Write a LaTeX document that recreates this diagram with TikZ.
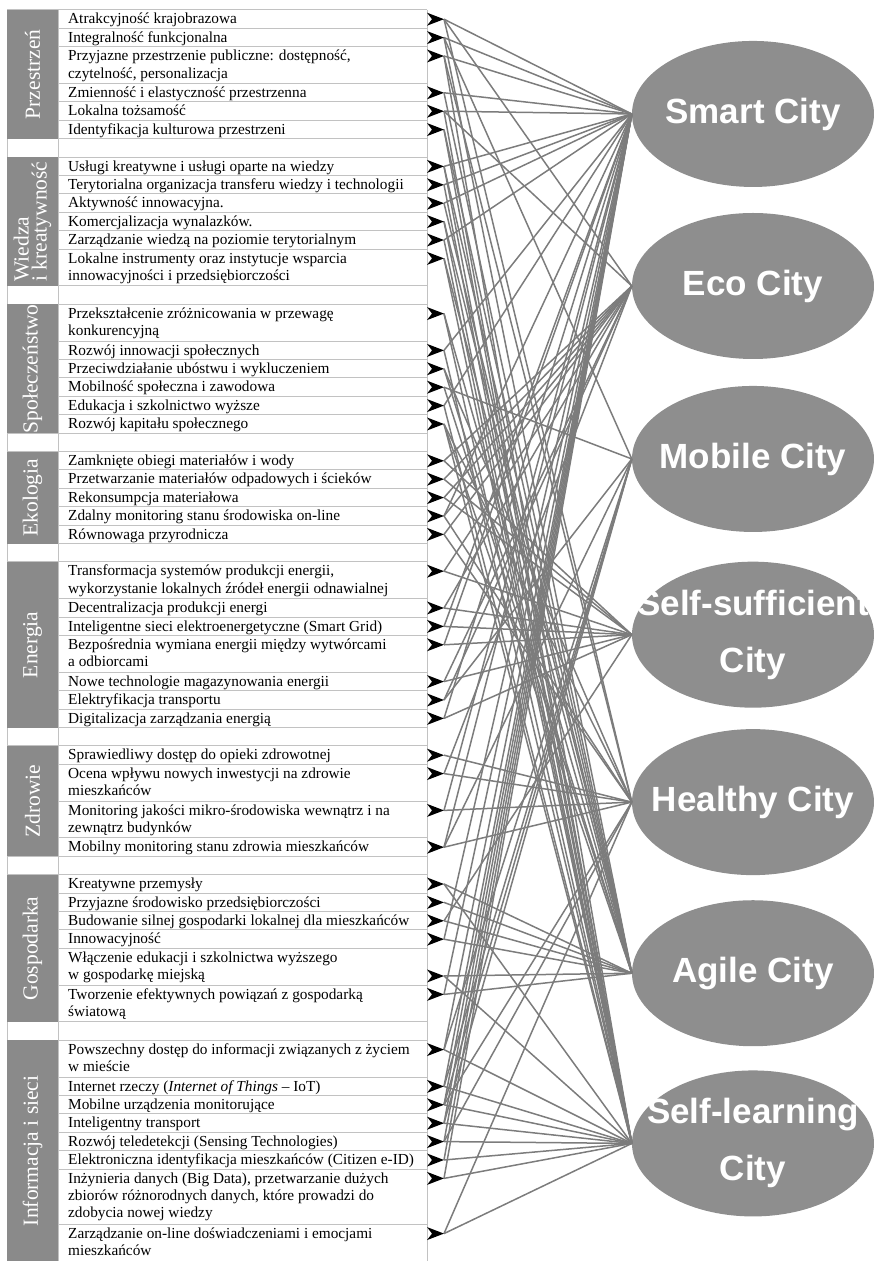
\documentclass[tikz,border=0pt]{standalone}
\usepackage{fontspec}
\setmainfont{Liberation Serif}
\newfontfamily\citysans{Liberation Sans}
\usetikzlibrary{shapes.geometric}

\definecolor{catgray}{HTML}{8A8A8A}
\definecolor{citygray}{HTML}{8E8E8E}
\definecolor{linkgray}{HTML}{7C7C7C}
\definecolor{rulegray}{HTML}{C2C2C2}

\begin{document}
\begin{tikzpicture}[x=1pt, y=-18.4pt,
    item/.style={anchor=base west, inner sep=0pt, align=left, font=\fontsize{15.3}{17.4}\selectfont},
    cat/.style={rotate=90, text=white, inner sep=0pt, align=left, font=\fontsize{21.5}{18}\selectfont},
    city/.style={ellipse, fill=citygray, minimum width=242pt, minimum height=146pt, inner sep=0pt},
    citytext/.style={text=white, align=center, inner sep=0pt, font=\citysans\bfseries\fontsize{35}{57}\selectfont},
    rule/.style={draw=rulegray, line width=1pt},
    link/.style={draw=linkgray, line width=1.5pt}]
    \useasboundingbox (0,-0.543) rectangle (874,67.99);

    % table grid
    \foreach \k in {0,1,2,4,5,6,7,8,9,10,11,12,13,15,16,18,19,20,21,22,23,24,25,26,27,28,29,30,32,33,34,36,37,38,39,40,41,43,45,46,47,48,49,50,51,53,55,56,58,59,60,61,62,63,66,68}
        \draw[rule] (58,\k) -- (427,\k);
    \foreach \k in {0,7,8,15,16,23,24,29,30,39,40,46,47,55,56,68}
        \draw[rule] (7,\k) -- (58,\k);
    \draw[rule] (7,0) -- (7,68) (58,0) -- (58,68) (427,0) -- (427,68);
    \foreach \a/\b in {0/7,8/15,16/23,24/29,30/39,40/46,47/55,56/68}
        \fill[catgray] (7,\a) rectangle (58,\b);

    \node[cat] (przestrzen) at (32.5,3.5) {Przestrzeń};
    \node[cat] (wiedza) at (32.5,11.5) {Wiedza\\ i kreatywność};
    \node[cat] (spoleczenstwo) at (32.5,19.5) {Społeczeństwo};
    \node[cat] (ekologia) at (32.5,26.5) {Ekologia};
    \node[cat] (energia) at (32.5,34.5) {Energia};
    \node[cat] (zdrowie) at (32.5,43) {Zdrowie};
    \node[cat] (gospodarka) at (32.5,51) {Gospodarka};
    \node[cat] (informacja) at (32.5,62) {Informacja i sieci};

    % base of a wrapped item is its last line
    \node[item] (p1) at (68,0.76) {Atrakcyjność krajobrazowa};
    \node[item] (p2) at (68,1.76) {Integralność funkcjonalna};
    \node[item] (p3) at (68,3.706) {Przyjazne przestrzenie publiczne: dostępność,\\ czytelność, personalizacja};
    \node[item] (p4) at (68,4.76) {Zmienność i elastyczność przestrzenna};
    \node[item] (p5) at (68,5.76) {Lokalna tożsamość};
    \node[item] (p6) at (68,6.76) {Identyfikacja kulturowa przestrzeni};

    \node[item] (w1) at (68,8.76) {Usługi kreatywne i usługi oparte na wiedzy};
    \node[item] (w2) at (68,9.76) {Terytorialna organizacja transferu wiedzy i technologii};
    \node[item] (w3) at (68,10.76) {Aktywność innowacyjna.};
    \node[item] (w4) at (68,11.76) {Komercjalizacja wynalazków.};
    \node[item] (w5) at (68,12.76) {Zarządzanie wiedzą na poziomie terytorialnym};
    \node[item] (w6) at (68,14.706) {Lokalne instrumenty oraz instytucje wsparcia\\ innowacyjności i przedsiębiorczości};

    \node[item] (s1) at (68,17.706) {Przekształcenie zróżnicowania w przewagę\\ konkurencyjną};
    \node[item] (s2) at (68,18.76) {Rozwój innowacji społecznych};
    \node[item] (s3) at (68,19.76) {Przeciwdziałanie ubóstwu i wykluczeniem};
    \node[item] (s4) at (68,20.76) {Mobilność społeczna i zawodowa};
    \node[item] (s5) at (68,21.76) {Edukacja i szkolnictwo wyższe};
    \node[item] (s6) at (68,22.76) {Rozwój kapitału społecznego};

    \node[item] (e1) at (68,24.76) {Zamknięte obiegi materiałów i wody};
    \node[item] (e2) at (68,25.76) {Przetwarzanie materiałów odpadowych i ścieków};
    \node[item] (e3) at (68,26.76) {Rekonsumpcja materiałowa};
    \node[item] (e4) at (68,27.76) {Zdalny monitoring stanu środowiska on-line};
    \node[item] (e5) at (68,28.76) {Równowaga przyrodnicza};

    \node[item] (n1) at (68,31.706) {Transformacja systemów produkcji energii,\\ wykorzystanie lokalnych źródeł energii odnawialnej};
    \node[item] (n2) at (68,32.76) {Decentralizacja produkcji energi};
    \node[item] (n3) at (68,33.76) {Inteligentne sieci elektroenergetyczne (Smart Grid)};
    \node[item] (n4) at (68,35.706) {Bezpośrednia wymiana energii między wytwórcami\\ a odbiorcami};
    \node[item] (n5) at (68,36.76) {Nowe technologie magazynowania energii};
    \node[item] (n6) at (68,37.76) {Elektryfikacja transportu};
    \node[item] (n7) at (68,38.76) {Digitalizacja zarządzania energią};

    \node[item] (z1) at (68,40.76) {Sprawiedliwy dostęp do opieki zdrowotnej};
    \node[item] (z2) at (68,42.706) {Ocena wpływu nowych inwestycji na zdrowie\\ mieszkańców};
    \node[item] (z3) at (68,44.706) {Monitoring jakości mikro-środowiska wewnątrz i na\\ zewnątrz budynków};
    \node[item] (z4) at (68,45.76) {Mobilny monitoring stanu zdrowia mieszkańców};

    \node[item] (g1) at (68,47.76) {Kreatywne przemysły};
    \node[item] (g2) at (68,48.76) {Przyjazne środowisko przedsiębiorczości};
    \node[item] (g3) at (68,49.76) {Budowanie silnej gospodarki lokalnej dla mieszkańców};
    \node[item] (g4) at (68,50.76) {Innowacyjność};
    \node[item] (g5) at (68,52.706) {Włączenie edukacji i szkolnictwa wyższego\\ w gospodarkę miejską};
    \node[item] (g6) at (68,54.706) {Tworzenie efektywnych powiązań z gospodarką\\ światową};

    \node[item] (i1) at (68,57.706) {Powszechny dostęp do informacji związanych z życiem\\ w mieście};
    \node[item] (i2) at (68,58.76) {Internet rzeczy (\textit{Internet of Things} – IoT)};
    \node[item] (i3) at (68,59.76) {Mobilne urządzenia monitorujące};
    \node[item] (i4) at (68,60.76) {Inteligentny transport};
    \node[item] (i5) at (68,61.76) {Rozwój teledetekcji (Sensing Technologies)};
    \node[item] (i6) at (68,62.76) {Elektroniczna identyfikacja mieszkańców (Citizen e-ID)};
    \node[item] (i7) at (68,65.651) {Inżynieria danych (Big Data), przetwarzanie dużych\\ zbiorów różnorodnych danych, które prowadzi do\\ zdobycia nowej wiedzy};
    \node[item] (i8) at (68,67.706) {Zarządzanie on-line doświadczeniami i emocjami\\ mieszkańców};

    % the seven city models
    \node[city, label={[citytext]center:Smart City}] (smart) at (753,5.65) {};
    \node[city, label={[citytext]center:Eco City}] (eco) at (753,15.0) {};
    \node[city, label={[citytext]center:Mobile City}] (mobile) at (753,24.4) {};
    \node[city, label={[citytext]center:{Self-sufficient\\City}}] (suff) at (753,33.95) {};
    \node[city, label={[citytext]center:Healthy City}] (healthy) at (753,43.05) {};
    \node[city, label={[citytext]center:Agile City}] (agile) at (753,52.35) {};
    \node[city, label={[citytext]center:{Self-learning\\City}}] (learn) at (753,61.6) {};

    \foreach \n/\k in {p1/0,p2/1,p3/2,p4/4,p5/5,p6/6,w1/8,w2/9,w3/10,w4/11,w5/12,w6/13,
            s1/16,s2/18,s3/19,s4/20,s5/21,s6/22,e1/24,e2/25,e3/26,e4/27,e5/28,
            n1/30,n2/32,n3/33,n4/34,n5/36,n6/37,n7/38,z1/40,z2/41,z3/43,z4/45,
            g1/47,g2/48,g3/49,g4/50,g5/52,g6/53,i1/56,i2/58,i3/59,i4/60,i5/61,i6/62,i7/63,i8/66}
        \coordinate (tip-\n) at (444,\k+0.5);

    \foreach \a/\c in {p1/smart,p1/eco,p1/healthy,p2/smart,p2/mobile,p2/agile,p3/smart,p3/healthy,p3/learn,
            p4/smart,p4/agile,p5/smart,p5/eco,p5/learn,p6/agile,p6/learn,
            w1/smart,w1/agile,w1/learn,w2/smart,w2/learn,w3/smart,w3/agile,w4/agile,w4/learn,
            w5/smart,w5/learn,w6/agile,w6/learn,
            s1/agile,s1/learn,s2/smart,s2/learn,s3/healthy,s3/agile,s4/mobile,s4/agile,
            s5/smart,s5/learn,s6/agile,s6/learn,s6/healthy,
            e1/eco,e1/suff,e2/eco,e2/suff,e3/eco,e3/suff,e4/smart,e4/eco,e4/healthy,e5/eco,e5/healthy,
            n1/eco,n1/suff,n2/eco,n2/suff,n3/smart,n3/suff,n4/suff,n4/smart,n5/eco,n5/suff,
            n6/eco,n6/mobile,n7/smart,n7/suff,
            z1/healthy,z2/healthy,z2/eco,z3/smart,z3/healthy,z4/smart,z4/mobile,z4/healthy,
            g1/agile,g1/learn,g2/agile,g3/suff,g3/agile,g4/smart,g4/agile,g5/agile,g5/learn,g6/agile,g6/smart,
            i1/smart,i1/mobile,i1/learn,i2/smart,i2/mobile,i2/learn,i3/smart,i3/mobile,i3/healthy,i3/learn,
            i4/smart,i4/mobile,i4/learn,i5/smart,i5/healthy,i5/learn,i6/smart,i6/learn,
            i7/smart,i7/learn,i8/healthy,i8/learn}
        \draw[link] (tip-\a) -- (\c.west);

    % notched black heads at the end of each row
    \foreach \n in {p1,p2,p3,p4,p5,p6,w1,w2,w3,w4,w5,w6,s1,s2,s3,s4,s5,s6,e1,e2,e3,e4,e5,
            n1,n2,n3,n4,n5,n6,n7,z1,z2,z3,z4,g1,g2,g3,g4,g5,g6,i1,i2,i3,i4,i5,i6,i7,i8}
        \fill (tip-\n) -- ++(-17pt,6.5pt) -- ++(5pt,-6.5pt) -- ++(-5pt,-6.5pt) -- cycle;
\end{tikzpicture}
\end{document}
